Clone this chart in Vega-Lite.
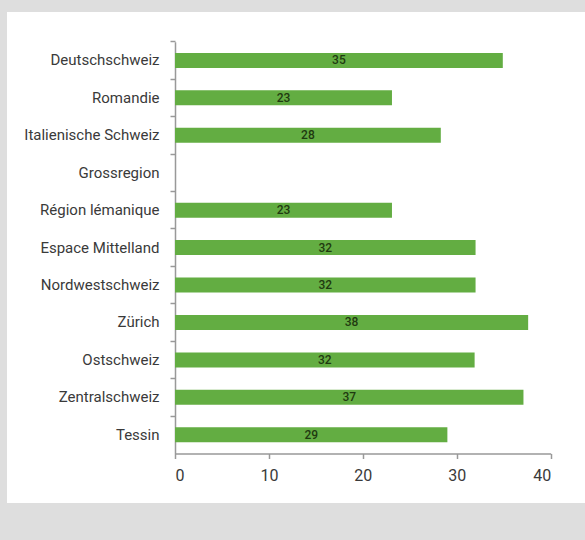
{
  "$schema": "https://vega.github.io/schema/vega-lite/v6.json",
  "width": 578,
  "height": 491,
  "autosize": {"type": "none"},
  "padding": {"left": 7, "top": 12, "right": 0, "bottom": 37},
  "background": "#dedede",
  "config": {
    "view": {"fill": "white", "stroke": null},
    "font": "Roboto, sans-serif"
  },
  "data": {
    "values": [
      {"region": "Deutschschweiz", "wert": 34.9},
      {"region": "Romandie", "wert": 23.1},
      {"region": "Italienische Schweiz", "wert": 28.3},
      {"region": "Grossregion", "wert": null},
      {"region": "Région lémanique", "wert": 23.1},
      {"region": "Espace Mittelland", "wert": 32.0},
      {"region": "Nordwestschweiz", "wert": 32.0},
      {"region": "Zürich", "wert": 37.6},
      {"region": "Ostschweiz", "wert": 31.9},
      {"region": "Zentralschweiz", "wert": 37.1},
      {"region": "Tessin", "wert": 29.0}
    ]
  },
  "encoding": {
    "y": {
      "field": "region",
      "type": "nominal",
      "sort": null,
      "scale": {
        "domain": ["Deutschschweiz", "Romandie", "Italienische Schweiz", "Grossregion", "Région lémanique", "Espace Mittelland", "Nordwestschweiz", "Zürich", "Ostschweiz", "Zentralschweiz", "Tessin"],
        "range": [29.7, 441.5],
        "paddingInner": 0,
        "paddingOuter": 0
      },
      "axis": {
        "title": null,
        "offset": -168,
        "bandPosition": 0,
        "domainColor": "#999999",
        "domainWidth": 1.5,
        "tickColor": "#999999",
        "tickWidth": 1.5,
        "tickSize": 5,
        "labelPadding": 11,
        "labelFontSize": 15,
        "labelColor": "#3a3a3a",
        "labelFont": "Roboto, sans-serif"
      }
    }
  },
  "layer": [
    {
      "mark": {"type": "bar", "color": "#63ad42", "height": {"band": 0.4}},
      "encoding": {
        "x": {
          "field": "wert",
          "type": "quantitative",
          "scale": {"domain": [0, 40], "range": [168, 543.7], "nice": false},
          "axis": {
            "title": null,
            "offset": -49.5,
            "values": [0, 10, 20, 30, 40],
            "grid": false,
            "domainColor": "#999999",
            "domainWidth": 1.5,
            "tickColor": "#999999",
            "tickWidth": 1.5,
            "tickSize": 5,
            "labelPadding": 9,
            "labelFontSize": 16,
            "labelColor": "#3a3a3a",
            "labelFont": "Roboto, sans-serif"
          }
        }
      }
    },
    {
      "mark": {"type": "text", "fontSize": 12, "fontWeight": 500, "font": "Roboto, sans-serif", "color": "#1f3a10", "align": "center", "baseline": "middle"},
      "encoding": {
        "x": {"field": "wert", "type": "quantitative", "stack": "zero", "bandPosition": 0.5},
        "text": {"field": "wert", "type": "quantitative", "format": ".0f"}
      }
    }
  ]
}
